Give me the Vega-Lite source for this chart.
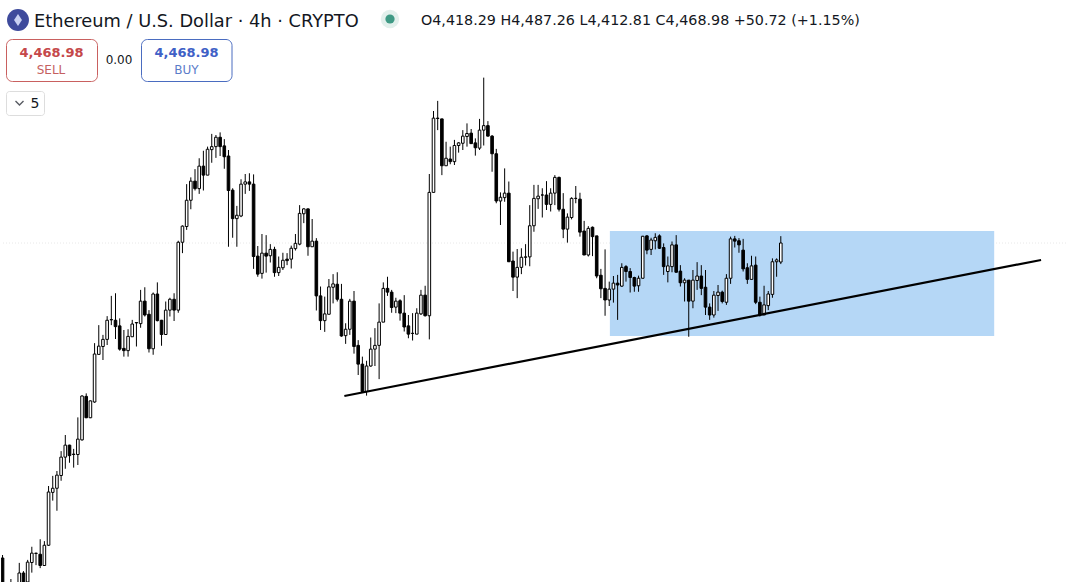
{"$schema":"https://vega.github.io/schema/vega-lite/v6.json","width":1067,"height":582,"padding":0,"autosize":{"type":"fit","contains":"padding"},"background":"#ffffff","view":{"stroke":null},
"datasets":{"candles":[
{"i":0,"o":3629,"h":3637,"l":3530,"c":3544},{"i":2,"o":3530,"h":3573,"l":3525,"c":3560},{"i":4,"o":3554,"h":3616,"l":3549,"c":3589},{"i":5,"o":3589,"h":3594,"l":3549,"c":3560},{"i":6,"o":3565,"h":3624,"l":3560,"c":3618},{"i":7,"o":3617,"h":3659,"l":3590,"c":3642},{"i":8,"o":3641,"h":3643,"l":3610,"c":3642},{"i":9,"o":3639,"h":3679,"l":3602,"c":3609},{"i":10,"o":3609,"h":3674,"l":3608,"c":3663},{"i":11,"o":3663,"h":3821,"l":3661,"c":3805},{"i":12,"o":3804,"h":3848,"l":3782,"c":3815},{"i":13,"o":3815,"h":3861,"l":3755,"c":3850},{"i":14,"o":3849,"h":3914,"l":3835,"c":3898},{"i":15,"o":3898,"h":3957,"l":3867,"c":3930},{"i":16,"o":3930,"h":3931,"l":3883,"c":3902},{"i":17,"o":3906,"h":3920,"l":3870,"c":3905},{"i":18,"o":3905,"h":4004,"l":3877,"c":3946},{"i":19,"o":3944,"h":4063,"l":3942,"c":4061},{"i":20,"o":4060,"h":4068,"l":4002,"c":4003},{"i":21,"o":4003,"h":4049,"l":4002,"c":4048},{"i":22,"o":4045,"h":4202,"l":4043,"c":4173},{"i":23,"o":4172,"h":4250,"l":4172,"c":4194},{"i":24,"o":4193,"h":4224,"l":4157,"c":4212},{"i":25,"o":4212,"h":4274,"l":4197,"c":4263},{"i":26,"o":4264,"h":4328,"l":4250,"c":4265},{"i":27,"o":4263,"h":4335,"l":4213,"c":4246},{"i":28,"o":4248,"h":4268,"l":4182,"c":4186},{"i":29,"o":4188,"h":4237,"l":4166,"c":4182},{"i":30,"o":4182,"h":4239,"l":4166,"c":4220},{"i":31,"o":4219,"h":4264,"l":4219,"c":4253},{"i":32,"o":4256,"h":4258,"l":4193,"c":4257},{"i":33,"o":4254,"h":4344,"l":4243,"c":4314},{"i":34,"o":4314,"h":4351,"l":4273,"c":4277},{"i":35,"o":4279,"h":4290,"l":4177,"c":4187},{"i":36,"o":4187,"h":4337,"l":4171,"c":4333},{"i":37,"o":4333,"h":4364,"l":4260,"c":4262},{"i":38,"o":4263,"h":4264,"l":4195,"c":4225},{"i":39,"o":4225,"h":4313,"l":4225,"c":4290},{"i":40,"o":4290,"h":4323,"l":4273,"c":4319},{"i":41,"o":4319,"h":4335,"l":4261,"c":4290},{"i":42,"o":4290,"h":4475,"l":4283,"c":4471},{"i":43,"o":4471,"h":4516,"l":4442,"c":4514},{"i":44,"o":4513,"h":4626,"l":4504,"c":4583},{"i":45,"o":4583,"h":4644,"l":4559,"c":4634},{"i":46,"o":4634,"h":4666,"l":4609,"c":4614},{"i":47,"o":4614,"h":4695,"l":4600,"c":4674},{"i":48,"o":4674,"h":4715,"l":4609,"c":4650},{"i":49,"o":4650,"h":4726,"l":4650,"c":4719},{"i":50,"o":4718,"h":4760,"l":4683,"c":4726},{"i":51,"o":4726,"h":4757,"l":4696,"c":4751},{"i":52,"o":4751,"h":4764,"l":4701,"c":4726},{"i":53,"o":4728,"h":4746,"l":4667,"c":4699},{"i":54,"o":4701,"h":4717,"l":4459,"c":4609},{"i":55,"o":4610,"h":4615,"l":4483,"c":4534},{"i":56,"o":4534,"h":4568,"l":4459,"c":4543},{"i":57,"o":4541,"h":4639,"l":4538,"c":4626},{"i":58,"o":4626,"h":4653,"l":4600,"c":4632},{"i":59,"o":4632,"h":4655,"l":4608,"c":4626},{"i":60,"o":4626,"h":4652,"l":4400,"c":4433},{"i":61,"o":4434,"h":4461,"l":4379,"c":4386},{"i":62,"o":4388,"h":4493,"l":4374,"c":4442},{"i":63,"o":4442,"h":4490,"l":4390,"c":4434},{"i":64,"o":4435,"h":4466,"l":4417,"c":4452},{"i":65,"o":4452,"h":4459,"l":4379,"c":4390},{"i":66,"o":4390,"h":4433,"l":4381,"c":4404},{"i":67,"o":4403,"h":4443,"l":4397,"c":4423},{"i":68,"o":4426,"h":4442,"l":4410,"c":4422},{"i":69,"o":4426,"h":4462,"l":4401,"c":4455},{"i":70,"o":4454,"h":4493,"l":4449,"c":4468},{"i":71,"o":4466,"h":4570,"l":4463,"c":4548},{"i":72,"o":4547,"h":4562,"l":4522,"c":4560},{"i":73,"o":4560,"h":4561,"l":4435,"c":4459},{"i":74,"o":4459,"h":4533,"l":4459,"c":4474},{"i":75,"o":4474,"h":4482,"l":4289,"c":4328},{"i":76,"o":4328,"h":4353,"l":4237,"c":4262},{"i":77,"o":4262,"h":4326,"l":4232,"c":4280},{"i":78,"o":4279,"h":4373,"l":4279,"c":4352},{"i":79,"o":4351,"h":4386,"l":4308,"c":4360},{"i":80,"o":4359,"h":4391,"l":4313,"c":4319},{"i":81,"o":4319,"h":4360,"l":4219,"c":4221},{"i":82,"o":4222,"h":4255,"l":4200,"c":4239},{"i":83,"o":4239,"h":4320,"l":4224,"c":4314},{"i":84,"o":4314,"h":4341,"l":4174,"c":4193},{"i":85,"o":4196,"h":4210,"l":4117,"c":4146},{"i":86,"o":4146,"h":4166,"l":4071,"c":4073},{"i":87,"o":4073,"h":4155,"l":4062,"c":4141},{"i":88,"o":4141,"h":4217,"l":4139,"c":4186},{"i":89,"o":4186,"h":4242,"l":4141,"c":4196},{"i":90,"o":4196,"h":4308,"l":4106,"c":4258},{"i":91,"o":4258,"h":4364,"l":4258,"c":4348},{"i":92,"o":4348,"h":4379,"l":4328,"c":4338},{"i":93,"o":4338,"h":4344,"l":4283,"c":4297},{"i":94,"o":4298,"h":4323,"l":4282,"c":4314},{"i":95,"o":4315,"h":4319,"l":4262,"c":4282},{"i":96,"o":4282,"h":4330,"l":4233,"c":4245},{"i":97,"o":4248,"h":4277,"l":4215,"c":4226},{"i":98,"o":4228,"h":4282,"l":4209,"c":4228},{"i":99,"o":4226,"h":4295,"l":4226,"c":4282},{"i":100,"o":4280,"h":4344,"l":4277,"c":4330},{"i":101,"o":4330,"h":4355,"l":4273,"c":4275},{"i":102,"o":4275,"h":4653,"l":4212,"c":4604},{"i":103,"o":4604,"h":4821,"l":4604,"c":4802},{"i":104,"o":4802,"h":4848,"l":4770,"c":4801},{"i":105,"o":4800,"h":4800,"l":4650,"c":4675},{"i":106,"o":4675,"h":4739,"l":4675,"c":4695},{"i":107,"o":4693,"h":4726,"l":4679,"c":4686},{"i":108,"o":4686,"h":4744,"l":4677,"c":4729},{"i":109,"o":4729,"h":4738,"l":4710,"c":4736},{"i":110,"o":4735,"h":4770,"l":4717,"c":4754},{"i":111,"o":4753,"h":4788,"l":4726,"c":4761},{"i":112,"o":4762,"h":4773,"l":4734,"c":4734},{"i":113,"o":4736,"h":4748,"l":4702,"c":4723},{"i":114,"o":4722,"h":4800,"l":4717,"c":4770},{"i":115,"o":4770,"h":4910,"l":4729,"c":4782},{"i":116,"o":4782,"h":4794,"l":4753,"c":4754},{"i":117,"o":4754,"h":4757,"l":4659,"c":4707},{"i":118,"o":4707,"h":4720,"l":4575,"c":4581},{"i":119,"o":4581,"h":4604,"l":4517,"c":4591},{"i":120,"o":4590,"h":4668,"l":4579,"c":4602},{"i":121,"o":4602,"h":4633,"l":4419,"c":4419},{"i":122,"o":4421,"h":4446,"l":4341,"c":4378},{"i":123,"o":4378,"h":4453,"l":4322,"c":4404},{"i":124,"o":4404,"h":4455,"l":4386,"c":4431},{"i":125,"o":4431,"h":4466,"l":4409,"c":4432},{"i":126,"o":4432,"h":4570,"l":4407,"c":4515},{"i":127,"o":4515,"h":4624,"l":4499,"c":4588},{"i":128,"o":4587,"h":4624,"l":4560,"c":4594},{"i":129,"o":4597,"h":4615,"l":4537,"c":4597},{"i":130,"o":4597,"h":4634,"l":4557,"c":4572},{"i":131,"o":4572,"h":4615,"l":4553,"c":4602},{"i":132,"o":4602,"h":4650,"l":4570,"c":4644},{"i":133,"o":4644,"h":4646,"l":4553,"c":4559},{"i":134,"o":4559,"h":4602,"l":4482,"c":4506},{"i":135,"o":4506,"h":4548,"l":4470,"c":4538},{"i":136,"o":4537,"h":4591,"l":4532,"c":4588},{"i":137,"o":4588,"h":4621,"l":4575,"c":4588},{"i":138,"o":4586,"h":4603,"l":4486,"c":4498},{"i":139,"o":4501,"h":4528,"l":4437,"c":4437},{"i":140,"o":4437,"h":4514,"l":4433,"c":4508},{"i":141,"o":4511,"h":4513,"l":4434,"c":4486},{"i":142,"o":4488,"h":4488,"l":4375,"c":4381},{"i":143,"o":4383,"h":4400,"l":4322,"c":4347},{"i":144,"o":4348,"h":4452,"l":4275,"c":4317},{"i":145,"o":4317,"h":4366,"l":4301,"c":4346},{"i":146,"o":4346,"h":4381,"l":4310,"c":4362},{"i":147,"o":4362,"h":4384,"l":4264,"c":4357},{"i":148,"o":4354,"h":4415,"l":4352,"c":4404},{"i":149,"o":4406,"h":4410,"l":4366,"c":4393},{"i":150,"o":4393,"h":4402,"l":4337,"c":4377},{"i":151,"o":4377,"h":4379,"l":4339,"c":4354},{"i":152,"o":4355,"h":4382,"l":4339,"c":4375},{"i":153,"o":4375,"h":4488,"l":4375,"c":4487},{"i":154,"o":4488,"h":4490,"l":4439,"c":4450},{"i":155,"o":4452,"h":4483,"l":4437,"c":4477},{"i":156,"o":4475,"h":4495,"l":4452,"c":4484},{"i":157,"o":4488,"h":4492,"l":4453,"c":4455},{"i":158,"o":4457,"h":4468,"l":4384,"c":4406},{"i":159,"o":4393,"h":4433,"l":4364,"c":4408},{"i":160,"o":4406,"h":4473,"l":4391,"c":4464},{"i":161,"o":4464,"h":4490,"l":4390,"c":4391},{"i":162,"o":4394,"h":4410,"l":4353,"c":4363},{"i":163,"o":4363,"h":4375,"l":4313,"c":4370},{"i":164,"o":4370,"h":4370,"l":4219,"c":4314},{"i":165,"o":4314,"h":4397,"l":4295,"c":4370},{"i":166,"o":4369,"h":4418,"l":4344,"c":4381},{"i":167,"o":4381,"h":4410,"l":4330,"c":4348},{"i":168,"o":4351,"h":4397,"l":4277,"c":4298},{"i":169,"o":4298,"h":4308,"l":4264,"c":4277},{"i":170,"o":4277,"h":4341,"l":4270,"c":4330},{"i":171,"o":4329,"h":4357,"l":4288,"c":4338},{"i":172,"o":4338,"h":4342,"l":4308,"c":4313},{"i":173,"o":4311,"h":4386,"l":4304,"c":4375},{"i":174,"o":4375,"h":4486,"l":4360,"c":4480},{"i":175,"o":4480,"h":4488,"l":4457,"c":4474},{"i":176,"o":4475,"h":4482,"l":4443,"c":4464},{"i":177,"o":4450,"h":4480,"l":4393,"c":4400},{"i":178,"o":4403,"h":4415,"l":4360,"c":4372},{"i":179,"o":4372,"h":4435,"l":4372,"c":4408},{"i":180,"o":4410,"h":4433,"l":4306,"c":4311},{"i":181,"o":4311,"h":4326,"l":4273,"c":4277},{"i":182,"o":4277,"h":4355,"l":4277,"c":4304},{"i":183,"o":4302,"h":4341,"l":4290,"c":4333},{"i":184,"o":4332,"h":4428,"l":4323,"c":4419},{"i":185,"o":4419,"h":4428,"l":4379,"c":4424},{"i":186,"o":4418.29,"h":4487.26,"l":4412.81,"c":4468.98}
],
"zone":[{"start":145.15,"end":237,"top":4501,"bottom":4221}],
"trend":[{"i":81.69,"price":4061},{"i":248.2,"price":4423.7}],
"last":[{"price":4468.98}]},
"layer":[
{"data":{"name":"last"},"mark":{"type":"rule","color":"#e8e8e8","strokeWidth":1,"strokeDash":[1,2]},"encoding":{"y":{"field":"price","type":"quantitative","scale":{"domain":[3565,5117],"nice":false,"zero":false},"axis":null}}},
{"data":{"name":"zone"},"mark":{"type":"rect","color":"#b5d7f6"},"encoding":{"x":{"field":"start","type":"quantitative","scale":{"domain":[-0.367,254.16],"nice":false,"zero":false,"padding":0},"axis":null},"x2":{"field":"end"},"y":{"field":"top","type":"quantitative","axis":null},"y2":{"field":"bottom"}}},
{"data":{"name":"candles"},"mark":{"type":"rule","color":"#000000","strokeWidth":1,"clip":true},"encoding":{"x":{"field":"i","type":"quantitative","axis":null},"y":{"field":"l","type":"quantitative","axis":null},"y2":{"field":"h"}}},
{"data":{"name":"candles"},"mark":{"type":"bar","size":2.6,"stroke":"#000000","strokeWidth":1,"clip":true},"encoding":{"x":{"field":"i","type":"quantitative","axis":null},"y":{"field":"o","type":"quantitative","axis":null},"y2":{"field":"c"},"fill":{"condition":{"test":"datum.c<datum.o","value":"#000000"},"value":"#ffffff"}}},
{"data":{"name":"trend"},"mark":{"type":"line","color":"#000000","strokeWidth":2.2},"encoding":{"x":{"field":"i","type":"quantitative","axis":null},"y":{"field":"price","type":"quantitative","axis":null}}},
{"data":{"values":[{"k":"sell"}]},"mark":{"type":"rect","fill":"#ffffff","stroke":"#c9605f","strokeWidth":1,"cornerRadius":6},"encoding":{"x":{"value":5.5},"x2":{"value":96.5},"y":{"value":39.5},"y2":{"value":81.5}}},
{"data":{"values":[{"k":"buy"}]},"mark":{"type":"rect","fill":"#ffffff","stroke":"#4a6cc0","strokeWidth":1,"cornerRadius":6},"encoding":{"x":{"value":140.5},"x2":{"value":231},"y":{"value":39.5},"y2":{"value":81.5}}},
{"data":{"values":[{"k":"lines"}]},"mark":{"type":"rect","fill":"#ffffff","stroke":"#dddddd","strokeWidth":1,"cornerRadius":3},"encoding":{"x":{"value":5.5},"x2":{"value":43.5},"y":{"value":91.5},"y2":{"value":115.5}}},
{"data":{"values":[{"k":"chevron"}]},"mark":{"type":"point","shape":"M-1,-0.5L0,0.5L1,-0.5","filled":false,"stroke":"#131722","strokeWidth":1.4,"size":64},"encoding":{"x":{"value":18.5},"y":{"value":103}}},
{"data":{"values":[{"k":"icon"}]},"mark":{"type":"point","shape":"circle","filled":true,"fill":"#3e4a9c","opacity":1,"size":480},"encoding":{"x":{"value":17},"y":{"value":20}}},
{"data":{"values":[{"k":"eth"}]},"mark":{"type":"point","shape":"M0,-1L0.65,0L0,1L-0.65,0Z","filled":true,"fill":"#c9d1f2","opacity":1,"size":150},"encoding":{"x":{"value":17},"y":{"value":20}}},
{"data":{"values":[{"k":"halo"}]},"mark":{"type":"point","shape":"circle","filled":true,"fill":"#e2f0ec","opacity":1,"size":340},"encoding":{"x":{"value":389},"y":{"value":19}}},
{"data":{"values":[{"k":"dot"}]},"mark":{"type":"point","shape":"circle","filled":true,"fill":"#3f9a85","opacity":1,"size":85},"encoding":{"x":{"value":389},"y":{"value":19}}},
{"data":{"values":[{"t":"Ethereum / U.S. Dollar · 4h · CRYPTO"}]},"mark":{"type":"text","align":"left","baseline":"alphabetic","font":"DejaVu Sans","fontSize":17.8,"color":"#131722"},"encoding":{"x":{"value":33},"y":{"value":27},"text":{"field":"t"}}},
{"data":{"values":[{"t":"O4,418.29  H4,487.26  L4,412.81  C4,468.98  +50.72 (+1.15%)"}]},"mark":{"type":"text","align":"left","baseline":"alphabetic","font":"DejaVu Sans","fontSize":14.3,"color":"#131722"},"encoding":{"x":{"value":420},"y":{"value":25},"text":{"field":"t"}}},
{"data":{"values":[{"t":"4,468.98"}]},"mark":{"type":"text","align":"center","baseline":"alphabetic","font":"DejaVu Sans","fontSize":13,"fontWeight":"bold","color":"#c5484a"},"encoding":{"x":{"value":50.5},"y":{"value":57},"text":{"field":"t"}}},
{"data":{"values":[{"t":"SELL"}]},"mark":{"type":"text","align":"center","baseline":"alphabetic","font":"DejaVu Sans","fontSize":12,"color":"#c5605f"},"encoding":{"x":{"value":50},"y":{"value":74},"text":{"field":"t"}}},
{"data":{"values":[{"t":"0.00"}]},"mark":{"type":"text","align":"center","baseline":"alphabetic","font":"DejaVu Sans","fontSize":12,"color":"#131722"},"encoding":{"x":{"value":118},"y":{"value":64},"text":{"field":"t"}}},
{"data":{"values":[{"t":"4,468.98"}]},"mark":{"type":"text","align":"center","baseline":"alphabetic","font":"DejaVu Sans","fontSize":13,"fontWeight":"bold","color":"#3f61c6"},"encoding":{"x":{"value":185.5},"y":{"value":57},"text":{"field":"t"}}},
{"data":{"values":[{"t":"BUY"}]},"mark":{"type":"text","align":"center","baseline":"alphabetic","font":"DejaVu Sans","fontSize":12,"color":"#5b7cc9"},"encoding":{"x":{"value":185.5},"y":{"value":74},"text":{"field":"t"}}},
{"data":{"values":[{"t":"5"}]},"mark":{"type":"text","align":"center","baseline":"alphabetic","font":"DejaVu Sans","fontSize":14,"color":"#131722"},"encoding":{"x":{"value":34},"y":{"value":108},"text":{"field":"t"}}}
]}
